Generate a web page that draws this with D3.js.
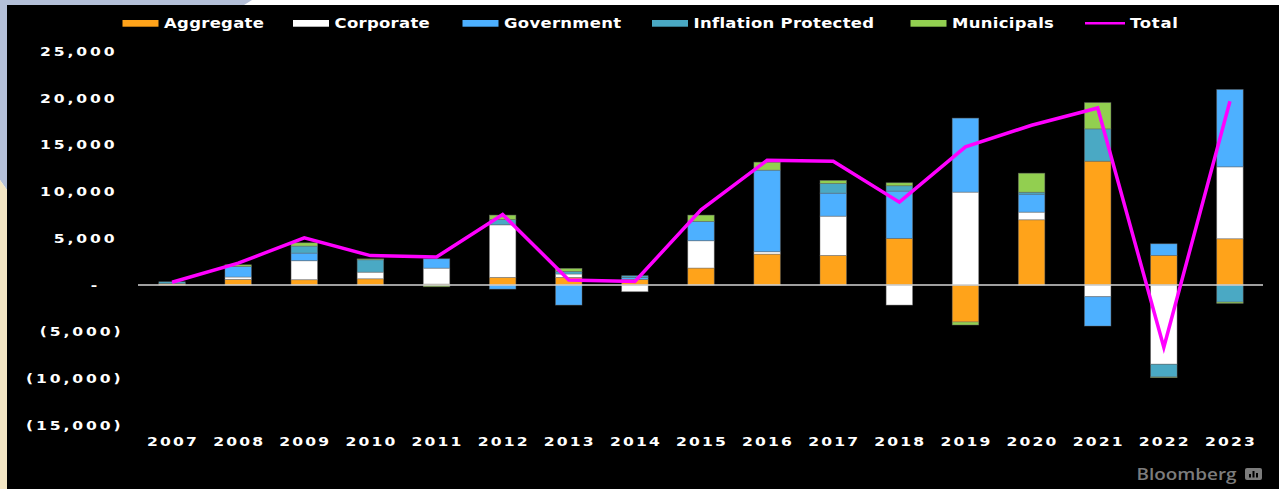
<!DOCTYPE html>
<html><head><meta charset="utf-8">
<script src="https://cdn.jsdelivr.net/npm/d3@7/dist/d3.min.js"></script>
<style>html,body{margin:0;padding:0;background:#fff;overflow:hidden}svg{display:block}</style>
</head><body>
<svg id="chart" width="1279" height="489"></svg>
<script>
const years = ["2007","2008","2009","2010","2011","2012","2013","2014","2015","2016","2017","2018","2019","2020","2021","2022","2023"];
const aggregate  = [150, 610, 570, 670, 100, 820, 820, 610, 1820, 3310, 3170, 4990, -3950, 6980, 13250, 3170, 4950];
const corporate  = [0, 250, 2030, 710, 1710, 5620, 360, -710, 2920, 250, 4200, -2140, 9940, 820, -1250, -8470, 7690];
const government = [0, 1130, 820, 0, 1000, -430, -2140, 210, 2070, 8730, 2460, 5060, 7910, 1920, -3130, 1240, 8270];
const inflation  = [200, 0, 750, 1320, 0, 580, 280, 180, 0, 0, 1040, 570, 0, 210, 3450, -1360, -1820];
const municipals = [0, 180, 350, 100, -180, 460, 320, 0, 670, 850, 320, 320, -320, 2030, 2810, -70, -140];
const total      = [300, 2350, 5050, 3150, 3000, 7550, 550, 380, 8050, 13350, 13250, 8870, 14780, 17090, 18940, -6660, 19660];
const yTicks = [25000, 20000, 15000, 10000, 5000, 0, -5000, -10000, -15000];

const seriesNames = ["Aggregate","Corporate","Government","Inflation Protected","Municipals"];
const seriesData = [aggregate, corporate, government, inflation, municipals];
const colors = ["#FFA31A","#FFFFFF","#4DB0FF","#4AA9C4","#92CF50"];
const totalColor = "#FF00FF";

const svg = d3.select("#chart");
// background frame
svg.append("rect").attr("width",1279).attr("height",489).attr("fill","#ffffff");
svg.append("polygon").attr("points","0,0 252,0 244,5 7,5 7,190 0,180").attr("fill","#B4C0D8");
svg.append("polygon").attr("points","0,180 7,190 7,489 0,489").attr("fill","#F3E6C4");
svg.append("rect").attr("x",7).attr("y",5).attr("width",1272).attr("height",484).attr("fill","#000");

const table = years.map((yr,i)=>{
  const o={year:yr};
  seriesNames.forEach((s,j)=>o[s]=seriesData[j][i]);
  return o;
});
const stacked = d3.stack().keys(seriesNames).offset(d3.stackOffsetDiverging)(table);

const x = d3.scaleBand().domain(years).range([139,1263]).paddingInner(0.6).paddingOuter(0.3);
const y = d3.scaleLinear().domain([-15000,25000]).range([425.3,51.3]);

// bars
const g = svg.append("g");
stacked.forEach((layer,j)=>{
  g.append("g").selectAll("rect").data(layer).join("rect")
    .attr("x",d=>x(d.data.year))
    .attr("width",x.bandwidth())
    .attr("y",d=>y(Math.max(d[0],d[1])))
    .attr("height",d=>Math.abs(y(d[0])-y(d[1])))
    .attr("fill",colors[j])
    .attr("stroke",d=>Math.abs(d[1]-d[0])>0?"rgba(110,110,110,0.55)":"none")
    .attr("stroke-width",0.8);
});

// zero line
svg.append("line").attr("x1",138).attr("x2",1263).attr("y1",y(0)).attr("y2",y(0))
  .attr("stroke","#d4d4d4").attr("stroke-width",1.5);

// total line
const line = d3.line().x((d,i)=>x(years[i])+x.bandwidth()/2).y(d=>y(d));
svg.append("path").datum(total).attr("d",line).attr("fill","none")
  .attr("stroke",totalColor).attr("stroke-width",3.5).attr("stroke-linejoin","miter");

// y axis labels
const fmt = d3.format(",");
const yl = svg.append("g").attr("font-family","'DejaVu Sans', Verdana, sans-serif")
  .attr("font-weight","bold").attr("font-size","13px").attr("fill","#ffffff");
yTicks.forEach(v=>{
  const label = v>0?fmt(v):(v===0?"-":"("+fmt(-v)+")");
  const ax = v>0?117.5:(v===0?100:123.5);
  yl.append("text").attr("transform",`translate(${ax},${y(v)}) scale(1.2,1)`)
    .attr("text-anchor","end").attr("dy","0.36em").attr("letter-spacing","2.4px").text(label);
});

// x axis labels
const xl = svg.append("g").attr("font-family","'DejaVu Sans', Verdana, sans-serif")
  .attr("font-weight","bold").attr("font-size","13px").attr("fill","#ffffff");
years.forEach(yr=>{
  xl.append("text").attr("transform",`translate(${x(yr)+x.bandwidth()/2+1},446) scale(1.2,1)`)
    .attr("text-anchor","middle").attr("letter-spacing","1.8px").text(yr);
});

// legend
const legendX = [122.5,293,462.5,652,910.5,1085];
const leg = svg.append("g").attr("font-family","'DejaVu Sans', Verdana, sans-serif")
  .attr("font-weight","bold").attr("font-size","13.5px").attr("fill","#ffffff");
seriesNames.forEach((s,j)=>{
  leg.append("rect").attr("x",legendX[j]).attr("y",20).attr("width",36).attr("height",6.7).attr("fill",colors[j]);
  leg.append("text").attr("transform",`translate(${legendX[j]+41.5},28) scale(1.22,1)`)
    .attr("letter-spacing","0.25px").text(s);
});
leg.append("line").attr("x1",legendX[5]).attr("x2",legendX[5]+40).attr("y1",23.3).attr("y2",23.3)
  .attr("stroke",totalColor).attr("stroke-width",2.5);
leg.append("text").attr("transform",`translate(${legendX[5]+45},28) scale(1.22,1)`)
  .attr("letter-spacing","0.6px").text("Total");

// Bloomberg mark
svg.append("text").attr("transform","translate(1136.5,479.5) scale(1.22,1)")
  .attr("font-family","'Open Sans', 'DejaVu Sans', sans-serif")
  .attr("font-size","15.5px").attr("font-weight","600").attr("fill","#7c7c7c").text("Bloomberg");
const ic = svg.append("g").attr("transform","translate(1245,468)");
ic.append("rect").attr("width",17).attr("height",12).attr("rx",2).attr("fill","#7c7c7c");
[[4,6],[7.5,3],[11,5]].forEach(([bx,by])=>ic.append("rect").attr("x",bx).attr("y",by).attr("width",2).attr("height",9.5-by).attr("fill","#000"));
</script>
</body></html>
